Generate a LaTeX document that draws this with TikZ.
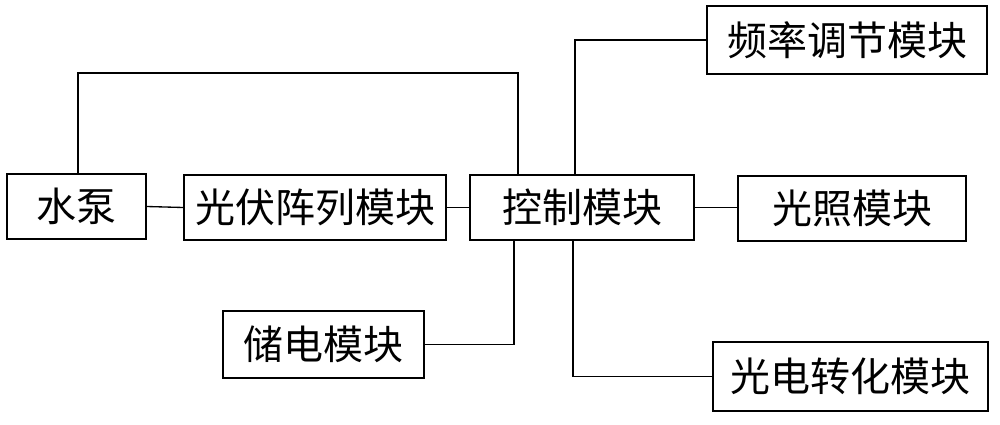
\documentclass[tikz,border=0pt]{standalone}
\usepackage{fontspec}
\newfontfamily\cjk{Noto Sans CJK SC}
\begin{document}
\begin{tikzpicture}[x=0.75pt,y=-0.75pt,
  box/.style={draw,line width=1pt,rectangle,inner sep=0pt,font=\cjk\fontsize{30}{30}\selectfont},
  link/.style={line width=1pt}]
\useasboundingbox (0,0) rectangle (1000,425);
\node[box,minimum width=139*0.75pt,minimum height=65*0.75pt] (pump) at (76.5,206.5) {水泵};
\node[box,minimum width=262*0.75pt,minimum height=65*0.75pt] (pv) at (315,207.5) {光伏阵列模块};
\node[box,minimum width=224*0.75pt,minimum height=65*0.75pt] (ctrl) at (582,207.5) {控制模块};
\node[box,minimum width=280*0.75pt,minimum height=68*0.75pt] (freq) at (847,40) {频率调节模块};
\node[box,minimum width=228*0.75pt,minimum height=65*0.75pt] (light) at (852,208.5) {光照模块};
\node[box,minimum width=201*0.75pt,minimum height=67*0.75pt] (store) at (323.5,344.5) {储电模块};
\node[box,minimum width=275*0.75pt,minimum height=69*0.75pt] (conv) at (850.5,376.5) {光电转化模块};
\coordinate (xp) at (78,0);
\coordinate (top) at (518,73);
\coordinate (xf) at (575,0);
\coordinate (xs) at (514,0);
\coordinate (xc) at (573,0);
\draw[link] (pump.north -| xp) |- (top) -- (top |- ctrl.north);
\draw[link] (pump.east) -- (pv.west);
\draw[link] (pv.east) -- (ctrl.west);
\draw[link] (ctrl.east) -- (ctrl.east -| light.west);
\draw[link] (ctrl.north -| xf) |- (freq.west);
\draw[link] (ctrl.south -| xs) |- (store.east);
\draw[link] (ctrl.south -| xc) |- (conv.west);
\end{tikzpicture}
\end{document}
